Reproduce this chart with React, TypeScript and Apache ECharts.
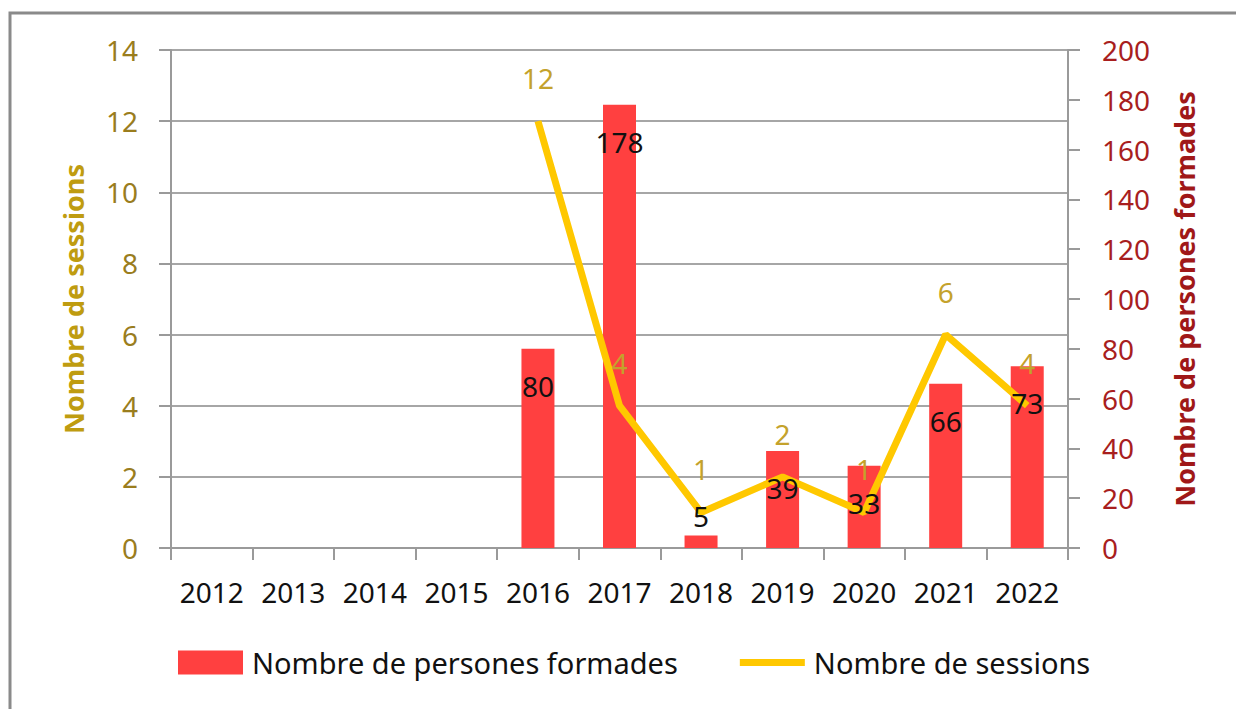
import React, { useEffect, useRef } from "react";
import * as echarts from "echarts";

const years = ["2012", "2013", "2014", "2015", "2016", "2017", "2018", "2019", "2020", "2021", "2022"];
const personnes: (number | null)[] = [null, null, null, null, 80, 178, 5, 39, 33, 66, 73];
const sessions: (number | null)[] = [null, null, null, null, 12, 4, 1, 2, 1, 6, 4];

const FONT = "Noto Sans";
const BAR_NAME = "Nombre de persones formades";
const LINE_NAME = "Nombre de sessions";

export default function App() {
  const ref = useRef<HTMLDivElement>(null);
  useEffect(() => {
    if (!ref.current) return;
    const chart = echarts.init(ref.current, null, { renderer: "svg" });
    const barLabelData = personnes.map((v) =>
      v !== null && v < 15
        ? { value: v, label: { position: "top", distance: 6 } }
        : v
    );
    chart.setOption({
      animation: false,
      backgroundColor: "#ffffff",
      textStyle: { fontFamily: FONT },
      graphic: [
        {
          type: "rect",
          shape: { x: 10, y: 13, width: 1260, height: 740 },
          style: { fill: "none", stroke: "#8a8a8a", lineWidth: 3 },
          silent: true,
        },
      ],
      grid: { left: 171, right: 168, top: 50, bottom: 161 },
      legend: {
        bottom: 27,
        left: 173,
        itemWidth: 65,
        itemHeight: 24,
        itemGap: 62,
        textStyle: { fontFamily: FONT, fontSize: 29, color: "#111", padding: [0, 0, 0, 4] },
        data: [
          { name: BAR_NAME, icon: "rect" },
          { name: LINE_NAME, icon: "path://M0,0 L65,0 L65,7 L0,7 Z" },
        ],
      },
      xAxis: {
        type: "category",
        data: years,
        axisLine: { lineStyle: { color: "#9a9a9a", width: 2 } },
        axisTick: { show: true, length: 12, lineStyle: { color: "#9a9a9a", width: 2 } },
        axisLabel: { fontFamily: FONT, fontSize: 28, color: "#111", margin: 30, interval: 0 },
      },
      yAxis: [
        {
          type: "value",
          min: 0,
          max: 14,
          interval: 2,
          name: LINE_NAME,
          nameLocation: "middle",
          nameGap: 84,
          nameTextStyle: { fontFamily: FONT, fontSize: 27, fontWeight: "bold", color: "#bf9c10" },
          axisLine: { show: true, lineStyle: { color: "#9a9a9a", width: 2 } },
          axisTick: { show: true, length: 12, lineStyle: { color: "#9a9a9a", width: 2 } },
          axisLabel: { fontFamily: FONT, fontSize: 28, color: "#9a7d1e", margin: 33 },
          splitLine: { show: true, lineStyle: { color: "#a6a6a6", width: 2 } },
        },
        {
          type: "value",
          min: 0,
          max: 200,
          interval: 20,
          name: BAR_NAME,
          nameLocation: "middle",
          nameGap: 103,
          nameRotate: 90,
          nameTextStyle: { fontFamily: FONT, fontSize: 27, fontWeight: "bold", color: "#a01818" },
          axisLine: { show: true, lineStyle: { color: "#9a9a9a", width: 2 } },
          axisTick: { show: true, length: 12, lineStyle: { color: "#9a9a9a", width: 2 } },
          axisLabel: { fontFamily: FONT, fontSize: 28, color: "#a81e1e", margin: 34 },
          splitLine: { show: false },
        },
      ],
      series: [
        {
          name: BAR_NAME,
          type: "bar",
          yAxisIndex: 1,
          data: personnes,
          barWidth: 33,
          itemStyle: { color: "#ff4040" },
          z: 2,
        },
        {
          name: LINE_NAME,
          type: "line",
          yAxisIndex: 0,
          data: sessions,
          symbol: "circle",
          symbolSize: 0.1,
          lineStyle: { color: "#ffc800", width: 7 },
          itemStyle: { color: "#ffc800" },
          z: 3,
          label: {
            show: true,
            position: "top",
            distance: 29,
            fontFamily: FONT,
            fontSize: 28,
            color: "#c4a22c",
          },
        },
        {
          name: "labels",
          type: "bar",
          yAxisIndex: 1,
          data: barLabelData,
          barWidth: 33,
          barGap: "-100%",
          itemStyle: { color: "rgba(0,0,0,0)" },
          silent: true,
          z: 5,
          label: {
            show: true,
            position: "insideTop",
            distance: 23,
            fontFamily: FONT,
            fontSize: 28,
            color: "#111",
          },
        },
      ],
    });
    return () => chart.dispose();
  }, []);
  return (
    <div
      ref={ref}
      style={{ position: "fixed", left: 0, top: 0, width: 1236, height: 709 }}
    />
  );
}
